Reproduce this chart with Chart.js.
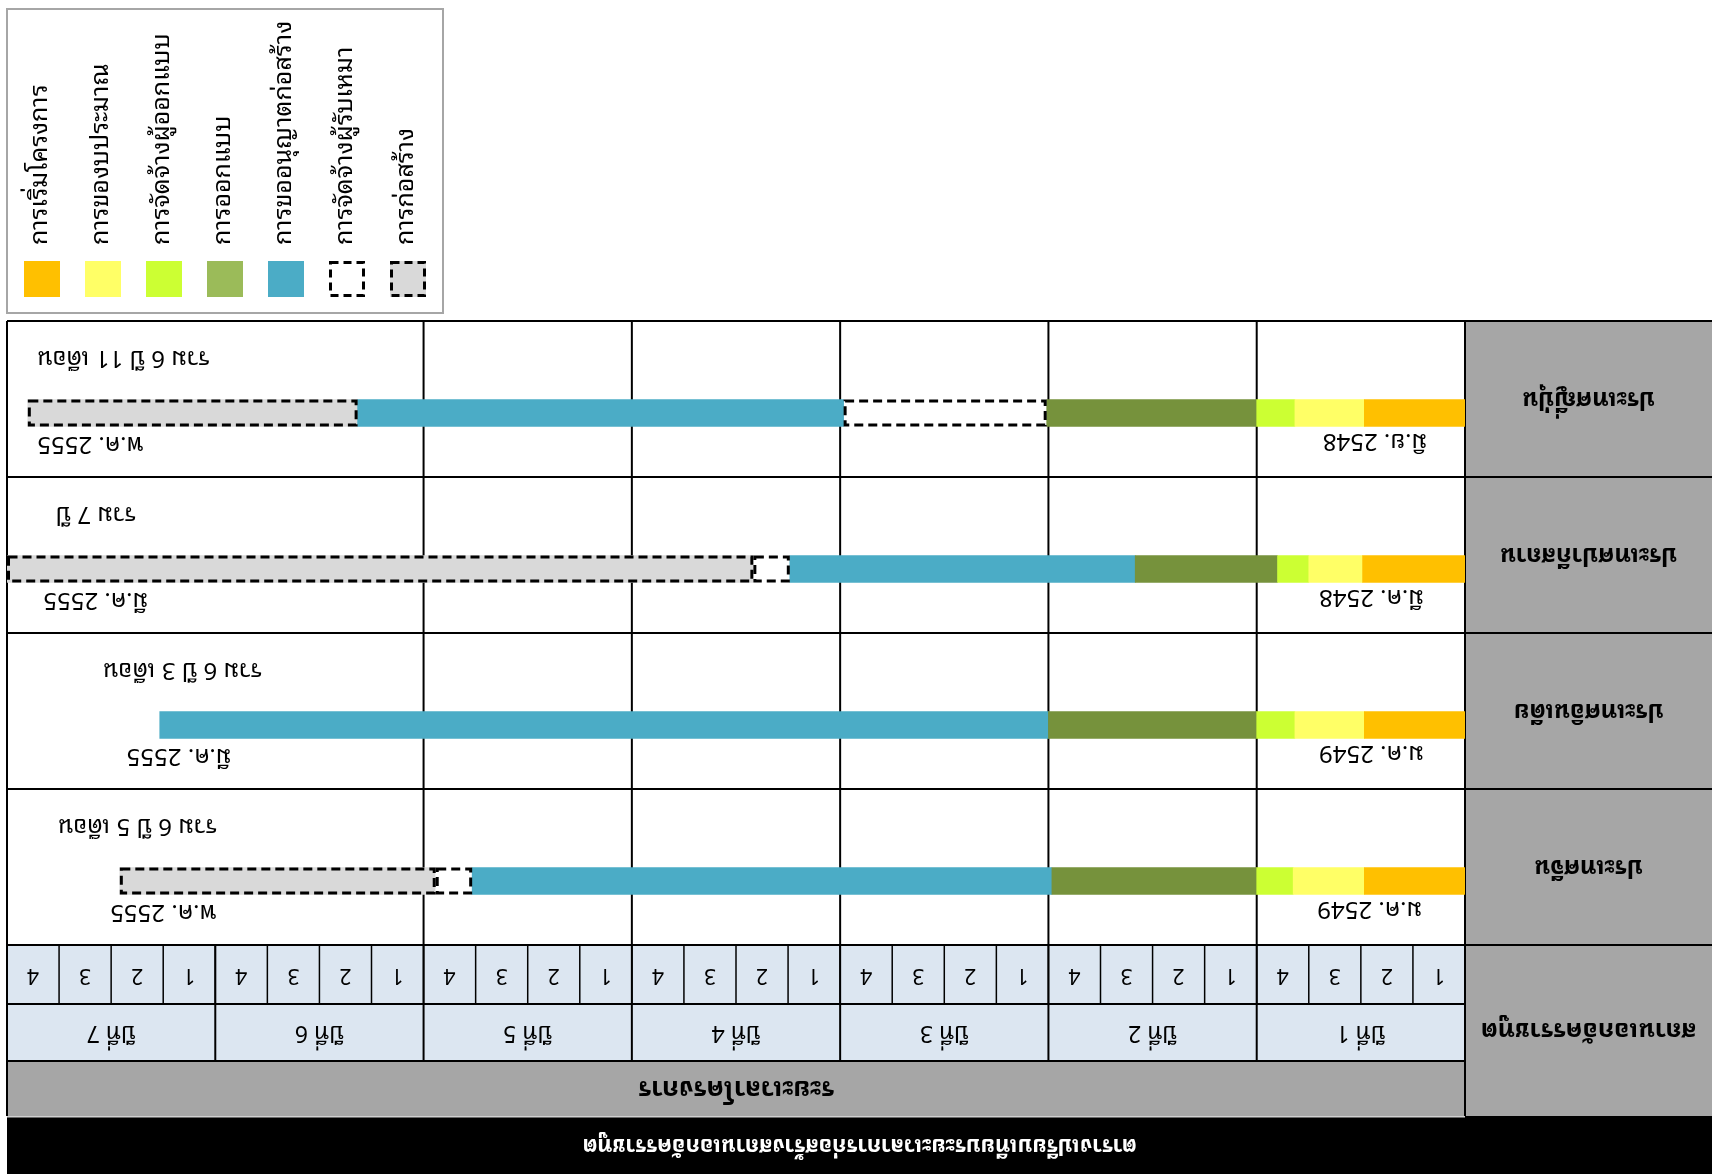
<!DOCTYPE html>
<html><head><meta charset="utf-8">
<script src="https://cdn.jsdelivr.net/npm/chart.js@4.4.1/dist/chart.umd.min.js"></script>
<style>html,body{margin:0;padding:0;background:#fff;overflow:hidden}#wrap{position:absolute;left:0;top:0;width:1712px;height:1176px}</style>
</head><body><div id="wrap"><canvas id="c" width="1712" height="1176"></canvas></div>
<script>
// ---------- DATA ----------
const countries = ['ประเทศญี่ปุ่น', 'ประเทศปากีสถาน', 'ประเทศอินเดีย', 'ประเทศจีน'];
const phases = ['การเริ่มโครงการ', 'การของบประมาณ', 'การจัดจ้างผู้ออกแบบ', 'การออกแบบ', 'การขออนุญาตก่อสร้าง', 'การจัดจ้างผู้รับเหมา', 'การก่อสร้าง'];
// months from project start: [start, end]
const startProject   = [[0, 5.8], [0, 5.9], [0, 5.8], [0, 5.8]];
const budgetRequest  = [[5.8, 9.8], [5.9, 9.0], [5.8, 9.8], [5.8, 9.9]];
const hireDesigner   = [[9.8, 12.0], [9.0, 10.8], [9.8, 12.0], [9.9, 12.0]];
const design         = [[12.0, 24.1], [10.8, 19.0], [12.0, 24.0], [12.0, 23.8]];
const permit         = [[35.8, 63.8], [19.0, 38.9], [24.0, 75.2], [23.8, 57.2]];
const hireContractor = [[24.1, 35.8], [38.9, 41.0], null, [57.2, 59.3]];
const construction   = [[63.8, 82.8], [41.0, 84.0], null, [59.3, 77.5]];
const totalLabels = ['รวม 6 ปี 11 เดือน', 'รวม 7 ปี', 'รวม 6 ปี 3 เดือน', 'รวม 6 ปี 5 เดือน'];
const startDates  = ['มิ.ย. 2548', 'มี.ค. 2548', 'ม.ค. 2549', 'ม.ค. 2549'];
const endDates    = ['พ.ค. 2555', 'มี.ค. 2555', 'มี.ค. 2555', 'พ.ค. 2555'];
const yearLabels  = ['ปีที่ 1', 'ปีที่ 2', 'ปีที่ 3', 'ปีที่ 4', 'ปีที่ 5', 'ปีที่ 6', 'ปีที่ 7'];
const quarterLabels = ['1', '2', '3', '4'];
const headerLabel = 'สถานเอกอัครราชทูต';
const spanLabel = 'ระยะเวลาโครงการ';
const titleText = 'ตารางเปรียบเทียบระยะเวลาการก่อสร้างสถานเอกอัครราชทูต';

// ---------- STYLE / LAYOUT ----------
const FONT = "'Noto Sans Thai Looped', 'Noto Serif Thai', Loma, Garuda, Waree, Norasi, Tahoma, 'Noto Sans Thai', 'Noto Sans', sans-serif";
const fills = ['#FFC000', '#FFFF66', '#CCFF33', '#76923C', '#4BACC6', '#FFFFFF', '#D9D9D9'];
const legendFills = ['#FFC000', '#FFFF66', '#CCFF33', '#9BBB59', '#4BACC6', '#FFFFFF', '#D9D9D9'];
const dashedPhase = [false, false, false, false, false, true, true];
// label anchor positions (in months, centre of text)
const totalLabelAt = [77.3, 78.9, 73.9, 76.5];
const endDateAt = [79.2, 78.9, 74.1, 75.0];
const startDateAt = [5.2, 5.4, 5.4, 5.5];
const BAR_OFFSET = 14;     // bars sit a little below the row centre
const Q_ROW = 59, Y_ROW = 57, SPAN_ROW = 55, TITLE_ROW = 58;

const series = [startProject, budgetRequest, hireDesigner, design, permit, hireContractor, construction];

function flipText(ctx, txt, x, y, font, color, align) {
  ctx.save();
  ctx.translate(x, y);
  ctx.rotate(Math.PI);
  ctx.font = font; ctx.fillStyle = color;
  ctx.textAlign = align || 'center'; ctx.textBaseline = 'middle';
  ctx.fillText(txt, 0, 0);
  ctx.restore();
}
function line(ctx, x1, y1, x2, y2) {
  ctx.beginPath(); ctx.moveTo(x1, y1); ctx.lineTo(x2, y2); ctx.stroke();
}

const tablePlugin = {
  id: 'table',
  beforeDatasetsDraw(chart) {
    const ctx = chart.ctx, xs = chart.scales.x, ys = chart.scales.y, W = chart.width;
    const left = xs.getPixelForValue(84), right = xs.getPixelForValue(0);
    const rowH = ys.getPixelForValue(1) - ys.getPixelForValue(0);
    const top = ys.getPixelForValue(0) - BAR_OFFSET - rowH / 2;
    const rowsBottom = top + rowH * countries.length;
    const qB = rowsBottom + Q_ROW, yB = qB + Y_ROW, sB = yB + SPAN_ROW, tB = sB + TITLE_ROW;
    ctx.save();
    // fills
    ctx.fillStyle = '#A6A6A6';
    ctx.fillRect(right, top, W - right, sB - top);
    ctx.fillRect(left, yB, right - left, sB - yB);
    ctx.fillStyle = '#DCE6F1';
    ctx.fillRect(left, rowsBottom, right - left, yB - rowsBottom);
    ctx.fillStyle = '#000';
    ctx.fillRect(left, sB, W - left, tB - sB);
    ctx.fillStyle = '#D0D0D0';
    ctx.fillRect(left, sB, right - left, 1.5);
    // lines
    ctx.strokeStyle = '#000'; ctx.lineWidth = 2;
    line(ctx, left, top, W, top);
    for (let i = 1; i <= countries.length; i++) {
      const y = top + rowH * i;
      line(ctx, left, y, W, y);
    }
    line(ctx, left, qB, right, qB);
    line(ctx, left, yB, right, yB);
    line(ctx, left, top, left, sB);
    line(ctx, right, top, right, sB);
    for (let m = 12; m <= 60; m += 12) {
      const x = xs.getPixelForValue(m);
      line(ctx, x, top, x, rowsBottom);
    }
    ctx.lineWidth = 1.5;
    for (let m = 3; m < 84; m += 3) {
      const x = xs.getPixelForValue(m);
      line(ctx, x, rowsBottom, x, qB);
    }
    ctx.lineWidth = 2;
    for (let m = 12; m < 84; m += 12) {
      const x = xs.getPixelForValue(m);
      line(ctx, x, rowsBottom, x, yB);
    }
    // quarter + year texts
    for (let y = 0; y < yearLabels.length; y++) {
      for (let q = 0; q < quarterLabels.length; q++) {
        const x = xs.getPixelForValue(12 * y + 3 * q + 1.5);
        flipText(ctx, quarterLabels[q], x, rowsBottom + Q_ROW / 2, '21px ' + FONT, '#000');
      }
      flipText(ctx, yearLabels[y], xs.getPixelForValue(12 * y + 6), qB + Y_ROW / 2, '23px ' + FONT, '#000');
    }
    flipText(ctx, spanLabel, (left + right) / 2, yB + SPAN_ROW / 2, 'bold 26px ' + FONT, '#000');
    flipText(ctx, headerLabel, (right + W) / 2, (rowsBottom + sB) / 2, 'bold 25px ' + FONT, '#000');
    flipText(ctx, titleText, (left + W) / 2, (sB + tB) / 2, 'bold 22px ' + FONT, '#fff');
    // row labels
    countries.forEach((c, i) => {
      const cy = top + rowH * (i + 0.5);
      flipText(ctx, c, (right + W) / 2, cy, 'bold 24px ' + FONT, '#000');
    });
    ctx.restore();
  },
  afterDatasetsDraw(chart) {
    const ctx = chart.ctx, xs = chart.scales.x, ys = chart.scales.y;
    ctx.save();
    // dashed outlines
    chart.data.datasets.forEach((ds, di) => {
      if (!dashedPhase[di]) return;
      const meta = chart.getDatasetMeta(di);
      meta.data.forEach((bar, i) => {
        if (ds.data[i] == null) return;
        const p = bar.getProps(['x', 'y', 'base', 'height'], true);
        const x1 = Math.min(p.x, p.base), x2 = Math.max(p.x, p.base);
        ctx.strokeStyle = '#000'; ctx.lineWidth = 3; ctx.setLineDash([9, 5]);
        ctx.strokeRect(x1 + 1.5, p.y - p.height / 2 + 1.5, x2 - x1 - 3, p.height - 3);
      });
    });
    ctx.setLineDash([]);
    // bar annotations
    countries.forEach((c, i) => {
      const cy = ys.getPixelForValue(i);
      flipText(ctx, totalLabels[i], xs.getPixelForValue(totalLabelAt[i]), cy - 55, '24px ' + FONT, '#000');
      flipText(ctx, endDates[i], xs.getPixelForValue(endDateAt[i]), cy + 31, '24px ' + FONT, '#000');
      flipText(ctx, startDates[i], xs.getPixelForValue(startDateAt[i]), cy + 28, '24px ' + FONT, '#000');
    });
    // legend
    ctx.strokeStyle = '#A6A6A6'; ctx.lineWidth = 2;
    ctx.strokeRect(7, 9, 436, 304);
    chart.data.datasets.forEach((ds, di) => {
      const sx = 24 + di * 61, sy = 261, s = 36;
      ctx.fillStyle = legendFills[di];
      ctx.fillRect(sx, sy, s, s);
      if (dashedPhase[di]) {
        ctx.strokeStyle = '#000'; ctx.lineWidth = 3; ctx.setLineDash([8, 5]);
        ctx.strokeRect(sx + 1.5, sy + 1.5, s - 3, s - 3);
        ctx.setLineDash([]);
      }
      ctx.save();
      ctx.translate(sx + s / 2 - 2, 245);
      ctx.rotate(-Math.PI / 2);
      ctx.font = '25px ' + FONT; ctx.fillStyle = '#000';
      ctx.textAlign = 'left'; ctx.textBaseline = 'middle';
      ctx.fillText(ds.label, 0, 0);
      ctx.restore();
    });
    ctx.restore();
  }
};

new Chart(document.getElementById('c'), {
  type: 'bar',
  data: {
    labels: countries,
    datasets: series.map((d, i) => ({
      label: phases[i],
      data: d,
      backgroundColor: fills[i],
      borderWidth: 0,
      borderSkipped: false,
      grouped: false,
      barThickness: 27
    }))
  },
  options: {
    indexAxis: 'y',
    responsive: false,
    animation: false,
    events: [],
    layout: { padding: { left: 7, right: 247, top: 335, bottom: 217 } },
    plugins: { legend: { display: false }, tooltip: { enabled: false }, title: { display: false } },
    scales: {
      x: { type: 'linear', min: 0, max: 84, reverse: true, display: false },
      y: { type: 'category', display: false, offset: true }
    }
  },
  plugins: [tablePlugin]
});
</script>
</body></html>
